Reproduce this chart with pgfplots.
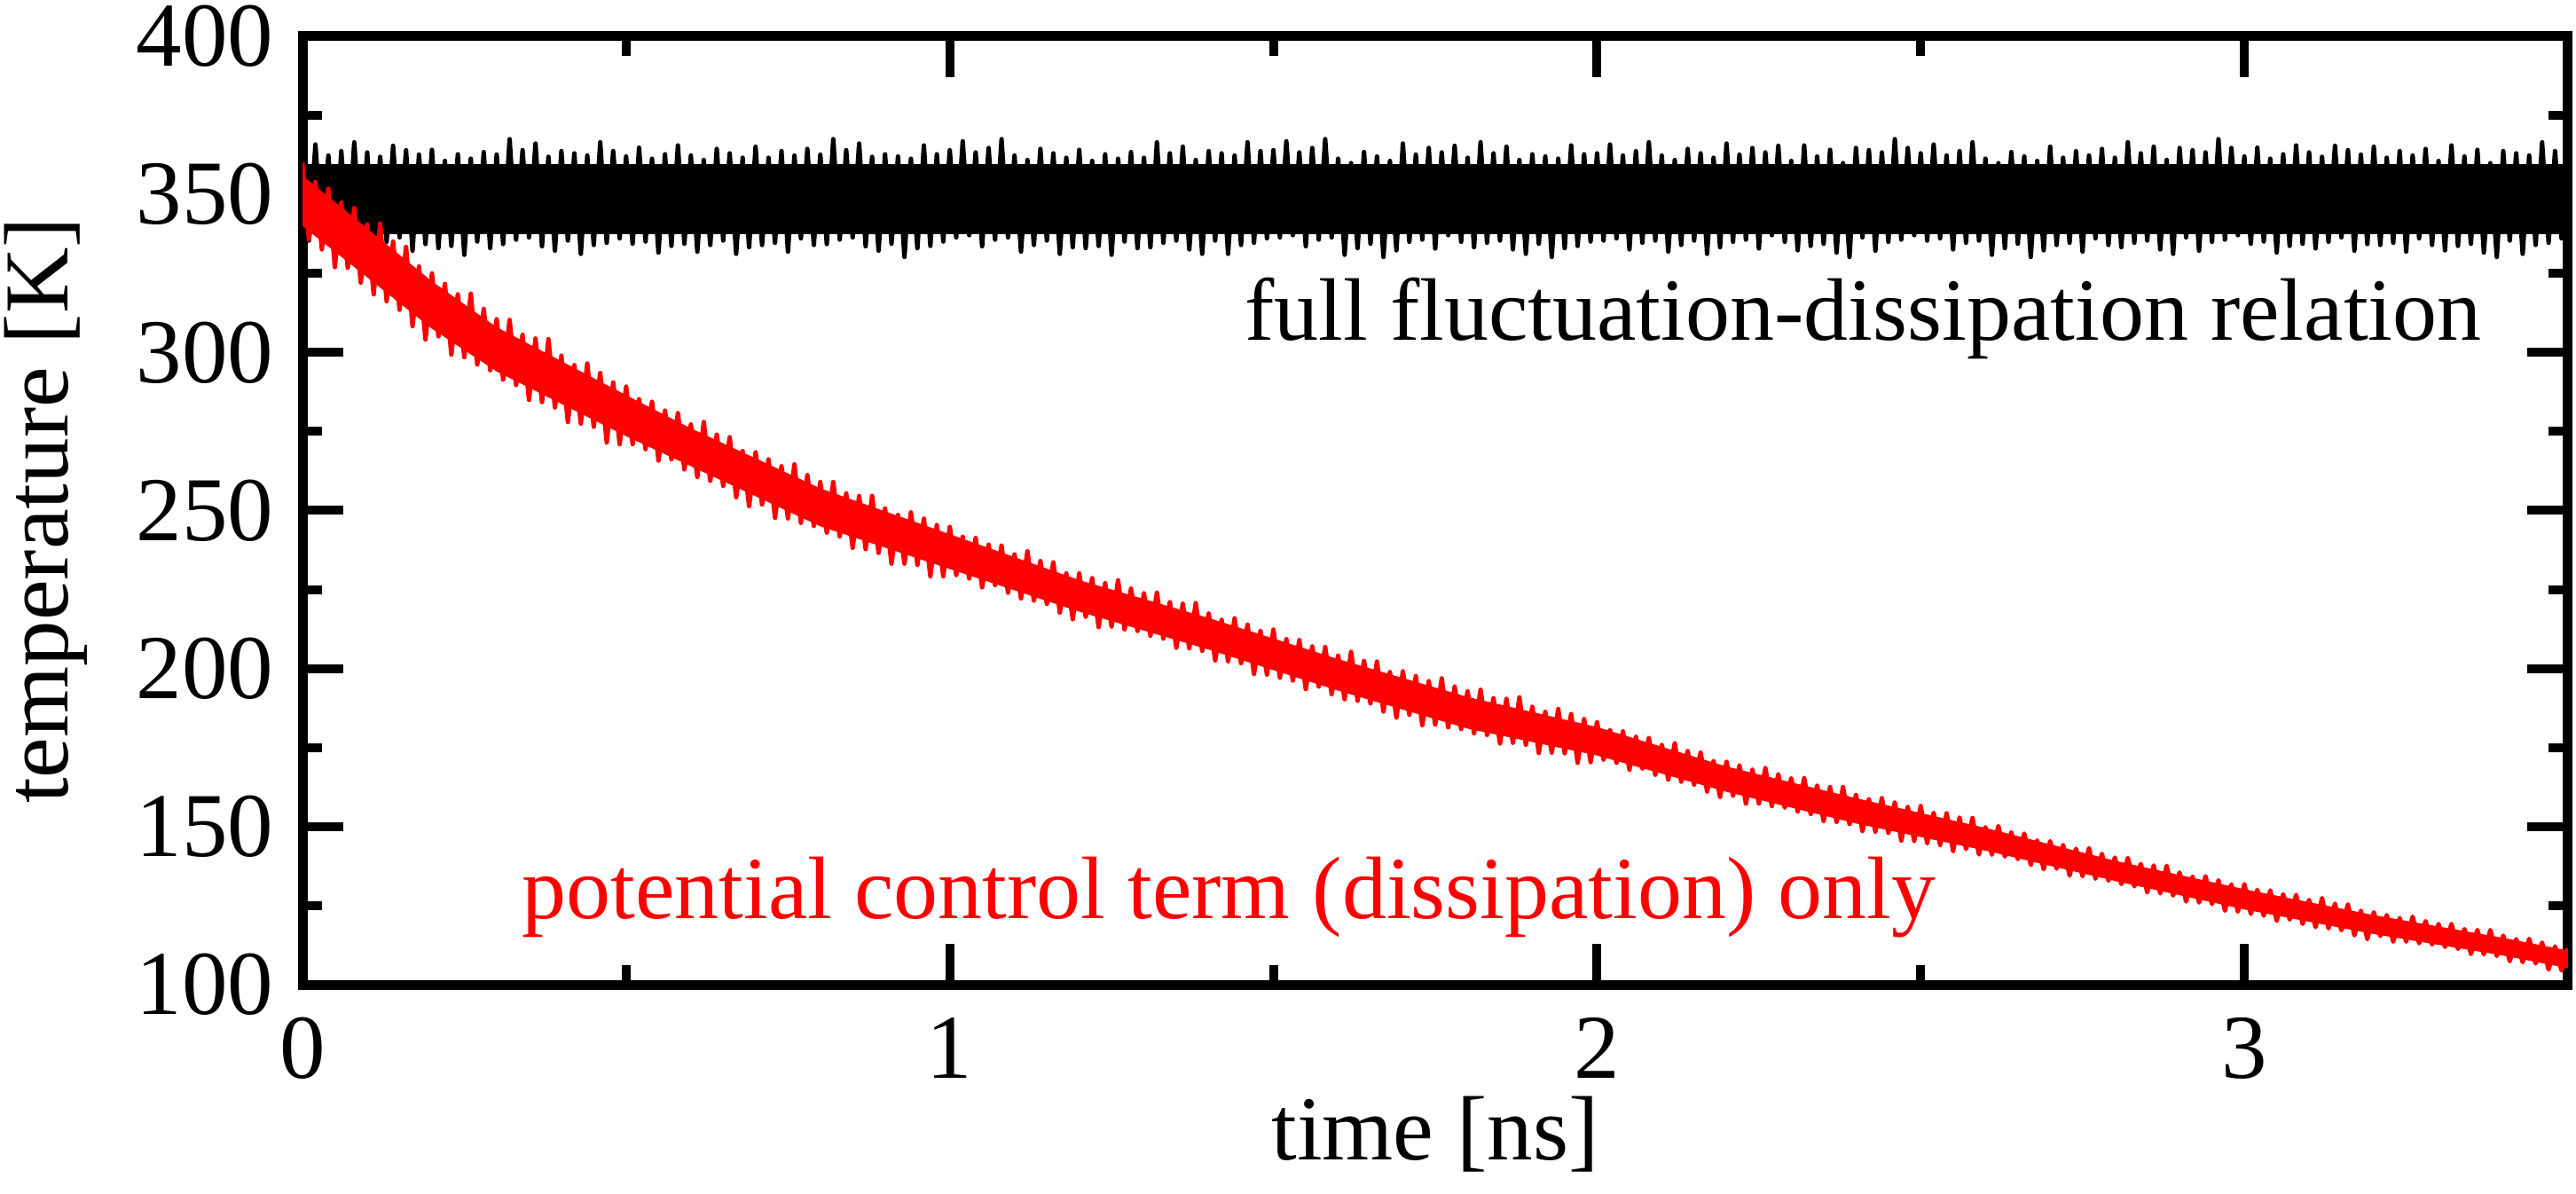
\documentclass[border=0pt]{standalone}
\usepackage{fontspec}
\setmainfont{Liberation Serif}
\usepackage{pgfplots}
\pgfplotsset{compat=1.18}
\begin{document}
\fontsize{10.3bp}{12bp}\selectfont
\begin{tikzpicture}
\useasboundingbox (0,0) rectangle (290.4bp,134.6bp);
\begin{axis}[
  at={(34.1bp,23.6bp)}, anchor=south west,
  scale only axis, width=255.4bp, height=106.9bp,
  xmin=0, xmax=3.5, ymin=100, ymax=400,
  xtick={0,1,2,3}, ytick={100,150,200,250,300,350,400},
  minor xtick={0.5,1.5,2.5}, minor ytick={125,175,225,275,325,375},
  tick align=inside,
  major tick length=4.6bp, minor tick length=2.2bp,
  every axis/.append style={line width=1bp},
  tick style={black, line width=1bp},
  axis line style={line width=1.1bp, line cap=rect},
  /pgf/number format/assume math mode=true,
  xticklabel style={inner sep=0pt, anchor=north, yshift=-3.2bp},
  yticklabel style={inner sep=0pt, anchor=east, xshift=-2.8bp},
  xlabel={time [ns]}, ylabel={temperature [K]},
  xlabel style={at={(axis description cs:0.5,-0.1843)}, anchor=base, inner sep=0pt},
  ylabel style={at={(axis description cs:-0.1034,0.5)}, anchor=base, inner sep=0pt},
]
% black: full fluctuation-dissipation relation
\addplot[draw=none, fill=black, forget plot] coordinates {(0,337.5)(3.5,337.5)(3.5,359.5)(0,359.5)};
\addplot[black, line width=0.5bp, line join=round, mark=none] coordinates {
(0.00,363.0)(0.01,335.4)(0.02,365.8)(0.03,336.1)(0.04,362.3)(0.05,332.6)(0.06,363.7)(0.07,334.7)(0.08,366.5)(0.09,335.4)
(0.10,363.3)(0.11,332.9)(0.12,361.9)(0.13,335.0)(0.14,365.4)(0.15,336.4)(0.16,364.0)(0.17,332.2)(0.18,362.6)(0.19,334.3)
(0.20,364.1)(0.21,333.0)(0.22,360.6)(0.23,333.7)(0.24,362.7)(0.25,330.9)(0.26,361.3)(0.27,335.1)(0.28,363.4)(0.29,333.0)
(0.30,362.6)(0.31,334.3)(0.32,367.5)(0.33,335.7)(0.34,364.0)(0.35,336.4)(0.36,366.1)(0.37,333.6)(0.38,361.9)(0.39,332.2)
(0.40,363.7)(0.41,335.4)(0.42,363.0)(0.43,331.2)(0.44,362.3)(0.45,334.0)(0.46,366.5)(0.47,334.7)(0.48,363.7)(0.49,336.1)
(0.50,362.0)(0.51,334.4)(0.52,364.8)(0.53,335.1)(0.54,361.3)(0.55,331.6)(0.56,362.7)(0.57,333.7)(0.58,365.5)(0.59,334.4)
(0.60,362.3)(0.61,331.9)(0.62,360.9)(0.63,334.0)(0.64,364.4)(0.65,335.4)(0.66,363.0)(0.67,331.2)(0.68,361.6)(0.69,333.3)
(0.70,365.1)(0.71,334.0)(0.72,361.6)(0.73,334.7)(0.74,363.7)(0.75,331.9)(0.76,362.3)(0.77,336.1)(0.78,364.4)(0.79,334.0)
(0.80,362.6)(0.81,334.3)(0.82,367.5)(0.83,335.7)(0.84,364.0)(0.85,336.4)(0.86,366.1)(0.87,333.6)(0.88,361.9)(0.89,332.2)
(0.90,362.7)(0.91,334.4)(0.92,362.0)(0.93,330.2)(0.94,361.3)(0.95,333.0)(0.96,365.5)(0.97,333.7)(0.98,362.7)(0.99,335.1)
(1.00,364.0)(1.01,336.4)(1.02,366.8)(1.03,337.1)(1.04,363.3)(1.05,333.6)(1.06,364.7)(1.07,335.7)(1.08,367.5)(1.09,336.4)
(1.10,362.3)(1.11,331.9)(1.12,360.9)(1.13,334.0)(1.14,364.4)(1.15,335.4)(1.16,363.0)(1.17,331.2)(1.18,361.6)(1.19,333.3)
(1.20,364.1)(1.21,333.0)(1.22,360.6)(1.23,333.7)(1.24,362.7)(1.25,330.9)(1.26,361.3)(1.27,335.1)(1.28,363.4)(1.29,333.0)
(1.30,361.6)(1.31,333.3)(1.32,366.5)(1.33,334.7)(1.34,363.0)(1.35,335.4)(1.36,365.1)(1.37,332.6)(1.38,360.9)(1.39,331.2)
(1.40,363.7)(1.41,335.4)(1.42,363.0)(1.43,331.2)(1.44,362.3)(1.45,334.0)(1.46,366.5)(1.47,334.7)(1.48,363.7)(1.49,336.1)
(1.50,364.0)(1.51,336.4)(1.52,366.8)(1.53,337.1)(1.54,363.3)(1.55,333.6)(1.56,364.7)(1.57,335.7)(1.58,367.5)(1.59,336.4)
(1.60,361.3)(1.61,330.9)(1.62,359.9)(1.63,333.0)(1.64,363.4)(1.65,334.4)(1.66,362.0)(1.67,330.2)(1.68,360.6)(1.69,332.3)
(1.70,366.1)(1.71,335.0)(1.72,362.6)(1.73,335.7)(1.74,364.7)(1.75,332.9)(1.76,363.3)(1.77,337.1)(1.78,365.4)(1.79,335.0)
(1.80,361.6)(1.81,333.3)(1.82,366.5)(1.83,334.7)(1.84,363.0)(1.85,335.4)(1.86,365.1)(1.87,332.6)(1.88,360.9)(1.89,331.2)
(1.90,362.7)(1.91,334.4)(1.92,362.0)(1.93,330.2)(1.94,361.3)(1.95,333.0)(1.96,365.5)(1.97,333.7)(1.98,362.7)(1.99,335.1)
(2.00,363.0)(2.01,335.4)(2.02,365.8)(2.03,336.1)(2.04,362.3)(2.05,332.6)(2.06,363.7)(2.07,334.7)(2.08,366.5)(2.09,335.4)
(2.10,362.3)(2.11,331.9)(2.12,360.9)(2.13,334.0)(2.14,364.4)(2.15,335.4)(2.16,363.0)(2.17,331.2)(2.18,361.6)(2.19,333.3)
(2.20,366.1)(2.21,335.0)(2.22,362.6)(2.23,335.7)(2.24,364.7)(2.25,332.9)(2.26,363.3)(2.27,337.1)(2.28,365.4)(2.29,335.0)
(2.30,360.6)(2.31,332.3)(2.32,365.5)(2.33,333.7)(2.34,362.0)(2.35,334.4)(2.36,364.1)(2.37,331.6)(2.38,359.9)(2.39,330.2)
(2.40,364.7)(2.41,336.4)(2.42,364.0)(2.43,332.2)(2.44,363.3)(2.45,335.0)(2.46,367.5)(2.47,335.7)(2.48,364.7)(2.49,337.1)
(2.50,363.0)(2.51,335.4)(2.52,365.8)(2.53,336.1)(2.54,362.3)(2.55,332.6)(2.56,363.7)(2.57,334.7)(2.58,366.5)(2.59,335.4)
(2.60,361.3)(2.61,330.9)(2.62,359.9)(2.63,333.0)(2.64,363.4)(2.65,334.4)(2.66,362.0)(2.67,330.2)(2.68,360.6)(2.69,332.3)
(2.70,365.1)(2.71,334.0)(2.72,361.6)(2.73,334.7)(2.74,363.7)(2.75,331.9)(2.76,362.3)(2.77,336.1)(2.78,364.4)(2.79,334.0)
(2.80,361.6)(2.81,333.3)(2.82,366.5)(2.83,334.7)(2.84,363.0)(2.85,335.4)(2.86,365.1)(2.87,332.6)(2.88,360.9)(2.89,331.2)
(2.90,364.7)(2.91,336.4)(2.92,364.0)(2.93,332.2)(2.94,363.3)(2.95,335.0)(2.96,367.5)(2.97,335.7)(2.98,364.7)(2.99,337.1)
(3.00,362.0)(3.01,334.4)(3.02,364.8)(3.03,335.1)(3.04,361.3)(3.05,331.6)(3.06,362.7)(3.07,333.7)(3.08,365.5)(3.09,334.4)
(3.10,363.3)(3.11,332.9)(3.12,361.9)(3.13,335.0)(3.14,365.4)(3.15,336.4)(3.16,364.0)(3.17,332.2)(3.18,362.6)(3.19,334.3)
(3.20,365.1)(3.21,334.0)(3.22,361.6)(3.23,334.7)(3.24,363.7)(3.25,331.9)(3.26,362.3)(3.27,336.1)(3.28,364.4)(3.29,334.0)
(3.30,360.6)(3.31,332.3)(3.32,365.5)(3.33,333.7)(3.34,362.0)(3.35,334.4)(3.36,364.1)(3.37,331.6)(3.38,359.9)(3.39,330.2)
(3.40,363.7)(3.41,335.4)(3.42,363.0)(3.43,331.2)(3.44,362.3)(3.45,334.0)(3.46,366.5)(3.47,334.7)(3.48,363.7)(3.49,336.1)
(3.50,350)
};
% red: potential control term (dissipation) only
\addplot[draw=none, fill=red, forget plot] coordinates {
(0,356)(0.2,322.5)(0.3,308)(0.5,286.5)(0.6,276)(0.8,257)(1.0,242.5)(1.2,228)(1.4,216)(1.6,203)(1.8,191)
(2.0,181.5)(2.2,169)(2.4,159)(2.6,149.6)(2.8,139.2)(3.0,130.2)(3.2,122)(3.4,114.8)(3.5,110.8)
(3.5,105.2)(3.4,109.2)(3.2,116)(3.0,123.8)(2.8,132.8)(2.6,142.4)(2.4,151)(2.2,161)(2.0,172.5)
(1.8,181)(1.6,193)(1.4,206)(1.2,218)(1.0,231.5)(0.8,245)(0.6,264)(0.5,273.5)(0.3,294)(0.2,307.5)(0,340)
};
\addplot[red, line width=0.5bp, line join=round, mark=none] coordinates {
(0.00,360.0)(0.01,335.7)(0.02,353.9)(0.03,332.6)(0.04,351.8)(0.05,327.0)(0.06,347.4)(0.07,326.8)(0.08,345.7)(0.09,322.1)
(0.10,340.5)(0.11,318.4)(0.12,340.8)(0.13,316.2)(0.14,335.1)(0.15,313.5)(0.16,333.4)(0.17,308.3)(0.18,327.2)(0.19,304.1)
(0.20,325.0)(0.21,305.1)(0.22,321.7)(0.23,299.3)(0.24,318.4)(0.25,298.5)(0.26,318.6)(0.27,296.2)(0.28,313.8)(0.29,294.4)
(0.30,310.5)(0.31,291.4)(0.32,310.3)(0.33,289.7)(0.34,305.6)(0.35,285.0)(0.36,304.4)(0.37,284.3)(0.38,304.2)(0.39,282.6)
(0.40,299.0)(0.41,278.0)(0.42,296.0)(0.43,277.5)(0.44,296.5)(0.45,276.5)(0.46,293.5)(0.47,271.5)(0.48,290.5)(0.49,271.0)
(0.50,289.2)(0.51,271.0)(0.52,285.2)(0.53,269.4)(0.54,284.4)(0.55,265.8)(0.56,281.6)(0.57,266.2)(0.58,280.8)(0.59,263.0)
(0.60,277.2)(0.61,260.6)(0.62,278.0)(0.63,259.4)(0.64,274.0)(0.65,257.8)(0.66,273.2)(0.67,254.2)(0.68,268.8)(0.69,251.4)
(0.70,268.4)(0.71,251.9)(0.72,266.2)(0.73,247.7)(0.74,264.0)(0.75,247.5)(0.76,264.6)(0.77,246.1)(0.78,261.2)(0.79,245.1)
(0.80,259.0)(0.81,243.0)(0.82,259.0)(0.83,241.8)(0.84,255.4)(0.85,238.2)(0.86,254.6)(0.87,237.8)(0.88,254.6)(0.89,236.6)
(0.90,250.6)(0.91,233.2)(0.92,248.6)(0.93,233.2)(0.94,249.4)(0.95,232.8)(0.96,247.4)(0.97,229.2)(0.98,245.4)(0.99,229.2)
(1.00,244.8)(1.01,229.6)(1.02,241.7)(1.03,228.5)(1.04,241.3)(1.05,225.7)(1.06,239.2)(1.07,226.4)(1.08,238.9)(1.09,224.0)
(1.10,236.1)(1.11,222.2)(1.12,237.1)(1.13,221.5)(1.14,234.0)(1.15,220.5)(1.16,233.6)(1.17,217.7)(1.18,230.1)(1.19,215.6)
(1.20,230.1)(1.21,216.4)(1.22,228.6)(1.23,213.1)(1.24,227.0)(1.25,213.3)(1.26,227.9)(1.27,212.4)(1.28,225.3)(1.29,211.9)
(1.30,223.8)(1.31,210.4)(1.32,224.0)(1.33,209.5)(1.34,221.0)(1.35,206.6)(1.36,220.5)(1.37,206.4)(1.38,220.7)(1.39,205.6)
(1.40,217.4)(1.41,202.6)(1.42,215.4)(1.43,202.3)(1.44,215.9)(1.45,201.7)(1.46,213.9)(1.47,198.3)(1.48,211.9)(1.49,198.1)
(1.50,212.3)(1.51,197.1)(1.52,209.3)(1.53,196.2)(1.54,209.0)(1.55,193.5)(1.56,207.0)(1.57,194.3)(1.58,206.8)(1.59,191.9)
(1.60,204.1)(1.61,190.3)(1.62,205.3)(1.63,189.8)(1.64,202.4)(1.65,189.0)(1.66,202.2)(1.67,186.4)(1.68,198.9)(1.69,184.5)
(1.70,199.1)(1.71,185.4)(1.72,197.6)(1.73,182.1)(1.74,196.0)(1.75,182.3)(1.76,196.9)(1.77,181.4)(1.78,194.3)(1.79,180.9)
(1.80,192.8)(1.81,179.5)(1.82,193.3)(1.83,179.0)(1.84,190.6)(1.85,176.3)(1.86,190.4)(1.87,176.5)(1.88,190.9)(1.89,175.9)
(1.90,187.9)(1.91,173.3)(1.92,186.3)(1.93,173.4)(1.94,187.2)(1.95,173.2)(1.96,185.6)(1.97,170.2)(1.98,184.0)(1.99,170.4)
(2.00,183.0)(2.01,171.2)(2.02,180.6)(2.03,170.2)(2.04,180.1)(2.05,168.0)(2.06,178.4)(2.07,168.3)(2.08,178.0)(2.09,166.4)
(2.10,175.8)(2.11,164.9)(2.12,176.3)(2.13,164.2)(2.14,173.9)(2.15,163.3)(2.16,173.4)(2.17,161.1)(2.18,170.7)(2.19,159.4)
(2.20,170.5)(2.21,159.8)(2.22,169.3)(2.23,157.3)(2.24,168.0)(2.25,157.3)(2.26,168.5)(2.27,156.5)(2.28,166.5)(2.29,156.0)
(2.30,165.3)(2.31,154.8)(2.32,165.3)(2.33,154.0)(2.34,163.0)(2.35,151.8)(2.36,162.5)(2.37,151.5)(2.38,162.5)(2.39,150.8)
(2.40,160.0)(2.41,148.6)(2.42,158.6)(2.43,148.4)(2.44,159.0)(2.45,148.0)(2.46,157.6)(2.47,145.6)(2.48,156.2)(2.49,145.5)
(2.50,156.5)(2.51,144.8)(2.52,154.4)(2.53,144.2)(2.54,154.2)(2.55,142.3)(2.56,152.8)(2.57,142.9)(2.58,152.7)(2.59,141.2)
(2.60,149.8)(2.61,141.1)(2.62,150.2)(2.63,140.5)(2.64,148.2)(2.65,139.7)(2.66,147.8)(2.67,137.9)(2.68,145.6)(2.69,136.5)
(2.70,145.4)(2.71,136.7)(2.72,144.2)(2.73,134.5)(2.74,143.0)(2.75,134.3)(2.76,143.2)(2.77,133.5)(2.78,141.4)(2.79,132.9)
(2.80,140.2)(2.81,131.8)(2.82,140.1)(2.83,131.1)(2.84,138.2)(2.85,129.2)(2.86,137.7)(2.87,128.9)(2.88,137.6)(2.89,128.2)
(2.90,135.5)(2.91,126.3)(2.92,134.2)(2.93,126.0)(2.94,134.3)(2.95,125.5)(2.96,133.0)(2.97,123.4)(2.98,131.7)(2.99,123.1)
(3.00,131.8)(3.01,122.4)(3.02,130.0)(3.03,121.8)(3.04,129.8)(3.05,120.2)(3.06,128.6)(3.07,120.6)(3.08,128.4)(3.09,119.2)
(3.10,126.8)(3.11,118.2)(3.12,127.4)(3.13,117.8)(3.14,125.6)(3.15,117.2)(3.16,125.4)(3.17,115.6)(3.18,123.4)(3.19,114.4)
(3.20,122.9)(3.21,115.4)(3.22,122.0)(3.23,113.6)(3.24,121.1)(3.25,113.6)(3.26,121.5)(3.27,113.1)(3.28,120.1)(3.29,112.7)
(3.30,119.2)(3.31,111.9)(3.32,119.2)(3.33,111.3)(3.34,117.6)(3.35,109.7)(3.36,117.3)(3.37,109.6)(3.38,117.3)(3.39,109.1)
(3.40,115.5)(3.41,107.4)(3.42,114.4)(3.43,107.1)(3.44,114.5)(3.45,106.7)(3.46,113.3)(3.47,104.8)(3.48,112.1)(3.49,104.5)
(3.50,111.5)
};
\node[anchor=base west, inner sep=0pt, font=\fontsize{10bp}{12bp}\selectfont] at (axis cs:1.449,303.8) {full fluctuation-dissipation relation};
\node[anchor=base west, inner sep=0pt, text=red, font=\fontsize{10bp}{12bp}\selectfont] at (axis cs:0.332,121) {potential control term (dissipation) only};
\end{axis}
\end{tikzpicture}
\end{document}
